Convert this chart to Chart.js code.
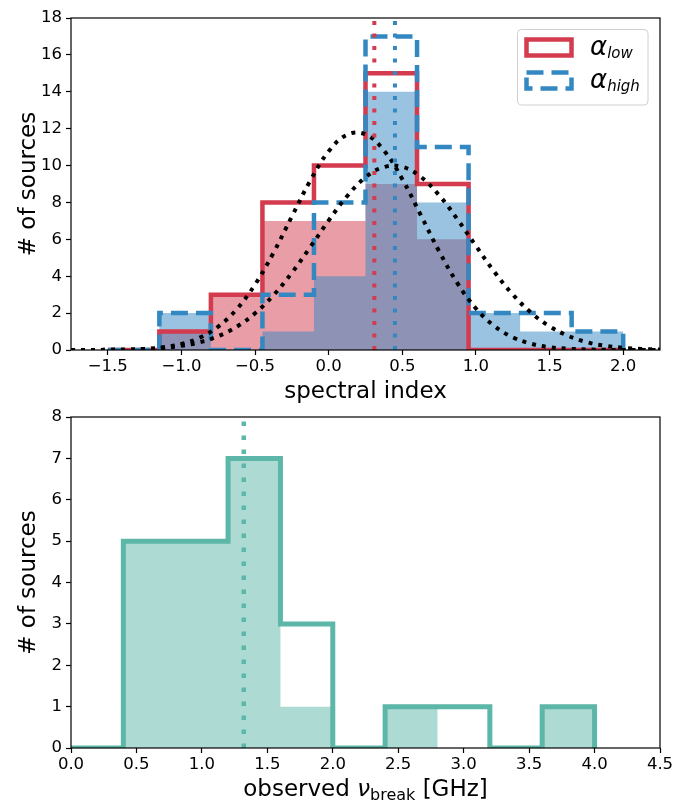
<!DOCTYPE html>
<html>
<head>
<meta charset="utf-8">
<script src="https://cdn.jsdelivr.net/npm/chart.js@4.4.1/dist/chart.umd.min.js"></script>
<style>
  html, body { margin: 0; padding: 0; background: #fff; }
  #wrap { position: relative; width: 676px; height: 801px; overflow: hidden; }
  canvas { display: block; position: absolute; left: 0; }
  #specChart { top: 0; }
  #breakChart { top: 400px; }
</style>
</head>
<body>
<div id="wrap">
<canvas id="specChart" width="676" height="412"></canvas>
<canvas id="breakChart" width="676" height="401"></canvas>
</div>
<script>
// --- top panel: spectral index histograms ---
const specEdges = [-1.5, -1.15, -0.8, -0.45, -0.1, 0.25, 0.6, 0.95, 1.3, 1.65, 2.0];
const lowCounts = [0, 1, 3, 8, 10, 15, 9, 0, 0, 0];      // alpha_low outline
const highCounts = [0, 2, 0, 3, 8, 17, 11, 2, 2, 1];     // alpha_high outline
const lowSubCounts = [0, 1, 3, 7, 7, 9, 6, 0, 0, 0];     // shaded alpha_low
const highSubCounts = [0, 2, 0, 1, 4, 14, 8, 2, 1, 1];   // shaded alpha_high
const lowMedian = 0.31;
const highMedian = 0.45;

// dotted gaussian curves
const fitX = [-1.75, -1.625, -1.5, -1.375, -1.25, -1.125, -1.0, -0.875, -0.75, -0.625, -0.5,
  -0.375, -0.25, -0.125, 0.0, 0.125, 0.25, 0.375, 0.5, 0.625, 0.75, 0.875, 1.0, 1.125,
  1.25, 1.375, 1.5, 1.625, 1.75, 1.875, 2.0, 2.125, 2.25];
const fitLow = [0, 0, 0.01, 0.02, 0.06, 0.15, 0.33, 0.67, 1.27, 2.21, 3.55, 5.27, 7.24, 9.18,
  10.77, 11.67, 11.69, 10.82, 9.26, 7.32, 5.35, 3.61, 2.25, 1.30, 0.69, 0.34, 0.15, 0.07,
  0.03, 0.01, 0, 0, 0];
const fitHigh = [0, 0, 0.01, 0.02, 0.05, 0.11, 0.23, 0.42, 0.75, 1.26, 1.99, 2.97, 4.19, 5.58,
  7.02, 8.34, 9.36, 9.92, 9.93, 9.39, 8.39, 7.08, 5.64, 4.24, 3.01, 2.02, 1.28, 0.77, 0.43,
  0.23, 0.12, 0.06, 0.03];

const specTicks = [-1.5, -1.0, -0.5, 0.0, 0.5, 1.0, 1.5, 2.0];
const specMax = 18;

// --- bottom panel: break frequency ---
const breakEdges = [0, 0.4, 0.8, 1.2, 1.6, 2.0, 2.4, 2.8, 3.2, 3.6, 4.0];
const breakCounts = [0, 5, 5, 7, 3, 0, 1, 1, 0, 1];
const breakSubCounts = [0, 5, 5, 7, 1, 0, 1, 0, 0, 1];
const breakMedian = 1.32;
const breakTicks = [0, 0.5, 1.0, 1.5, 2.0, 2.5, 3.0, 3.5, 4.0, 4.5];
const breakMax = 8;

const red = 'rgb(212, 59, 79)';
const redFill = 'rgba(212, 59, 79, 0.5)';
const blue = 'rgb(52, 136, 193)';
const blueFill = 'rgba(52, 136, 193, 0.5)';
const teal = 'rgb(92, 183, 168)';
const tealFill = 'rgba(92, 183, 168, 0.5)';
const FONT = '"DejaVu Sans", sans-serif';

// histogram outline as corner points (like matplotlib step hist)
function histPoints(edges, counts) {
  const pts = [{x: edges[0], y: 0}];
  counts.forEach((c, i) => {
    pts.push({x: edges[i], y: c});
    pts.push({x: edges[i + 1], y: c});
  });
  pts.push({x: edges[edges.length - 1], y: 0});
  return pts;
}
function vline(x, top) {
  return [{x: x, y: 0}, {x: x, y: top}];
}

function tickFmt(v) {
  return (v < 0 ? '\u2212' : '') + Math.abs(v).toFixed(1);
}

function axes(xMin, xMax, xTicks, yMax, yStep, xHeight) {
  const tickFont = {family: FONT, size: 16.5};
  const grid = {drawOnChartArea: false, drawTicks: true, tickLength: 5, tickWidth: 1.2, tickColor: '#000'};
  return {
    x: {
      type: 'linear', min: xMin, max: xMax,
      afterBuildTicks: s => { s.ticks = xTicks.map(v => ({value: v})); },
      afterFit: s => { s.height = xHeight; },
      ticks: {font: tickFont, color: '#000', padding: 2, maxRotation: 0, autoSkip: false, callback: v => tickFmt(v)},
      grid: grid, border: {display: false}
    },
    y: {
      min: 0, max: yMax,
      afterFit: s => { s.width = 71; },
      ticks: {font: tickFont, color: '#000', padding: 4, stepSize: yStep},
      grid: grid, border: {display: false}
    }
  };
}

// text made of runs with different fonts (for subscripts)
function drawRuns(ctx, runs, x, y, align) {
  let total = 0;
  runs.forEach(r => { ctx.font = r.font; total += ctx.measureText(r.text).width; });
  let cx = align === 'center' ? x - total / 2 : x;
  ctx.textAlign = 'left';
  ctx.textBaseline = 'alphabetic';
  runs.forEach(r => {
    ctx.font = r.font;
    ctx.fillText(r.text, cx, y + (r.dy || 0));
    cx += ctx.measureText(r.text).width;
  });
}

function decor(xTitleRuns, titleBaseline, extra) {
  return {
    id: 'decor',
    afterDraw(chart) {
      const {ctx, chartArea: a} = chart;
      ctx.save();
      ctx.strokeStyle = '#000';
      ctx.lineWidth = 1.2;
      ctx.strokeRect(a.left, a.top, a.right - a.left, a.bottom - a.top);
      ctx.fillStyle = '#000';
      drawRuns(ctx, xTitleRuns, (a.left + a.right) / 2, titleBaseline, 'center');
      ctx.translate(35, (a.top + a.bottom) / 2);
      ctx.rotate(-Math.PI / 2);
      ctx.font = '23px ' + FONT;
      ctx.textAlign = 'center';
      ctx.textBaseline = 'alphabetic';
      ctx.fillText('# of sources', 0, 0);
      ctx.restore();
      if (extra) extra(ctx);
    }
  };
}

function drawLegend(ctx) {
  ctx.save();
  ctx.beginPath();
  ctx.roundRect(517.5, 29.5, 130.5, 75.5, 4);
  ctx.fillStyle = 'rgba(255,255,255,0.8)';
  ctx.fill();
  ctx.strokeStyle = '#d0d0d0';
  ctx.lineWidth = 1;
  ctx.stroke();

  ctx.lineWidth = 4.5;
  ctx.strokeStyle = red;
  ctx.strokeRect(526.5, 39.5, 45, 16);
  ctx.strokeStyle = blue;
  ctx.setLineDash([17, 8]);
  ctx.strokeRect(526.5, 72.5, 45, 16);
  ctx.setLineDash([]);

  ctx.fillStyle = '#000';
  drawRuns(ctx, [
    {text: '\u03b1', font: 'italic 26px ' + FONT},
    {text: 'low', font: 'italic 15px ' + FONT, dy: 3}
  ], 590, 55, 'left');
  drawRuns(ctx, [
    {text: '\u03b1', font: 'italic 26px ' + FONT},
    {text: 'high', font: 'italic 15px ' + FONT, dy: 3}
  ], 590, 88, 'left');
  ctx.restore();
}

const common = {responsive: false, animation: false, events: [],
  elements: {point: {radius: 0}, line: {tension: 0, fill: false}},
  plugins: {legend: {display: false}, tooltip: {enabled: false}}};

new Chart(document.getElementById('specChart'), {
  type: 'line',
  data: {
    datasets: [
      {data: vline(lowMedian, specMax), borderColor: red, borderWidth: 4, borderDash: [4, 8.5], order: 0, clip: 0},
      {data: vline(highMedian, specMax), borderColor: blue, borderWidth: 4, borderDash: [4, 8.5], order: 0, clip: 0},
      {data: fitX.map((x, i) => ({x: x, y: fitLow[i]})), borderColor: '#000', borderWidth: 4,
        borderDash: [4, 6], tension: 0.4, order: 1, clip: 0},
      {data: fitX.map((x, i) => ({x: x, y: fitHigh[i]})), borderColor: '#000', borderWidth: 4,
        borderDash: [4, 6], tension: 0.4, order: 1, clip: 0},
      {data: histPoints(specEdges, highCounts), borderColor: blue, borderWidth: 4.5, borderDash: [17, 8], order: 2, clip: 0},
      {data: histPoints(specEdges, lowCounts), borderColor: red, borderWidth: 4.5, order: 3, clip: 0},
      {data: histPoints(specEdges, highSubCounts), borderWidth: 0, backgroundColor: blueFill, fill: 'origin', order: 4, clip: 0},
      {data: histPoints(specEdges, lowSubCounts), borderWidth: 0, backgroundColor: redFill, fill: 'origin', order: 5, clip: 0}
    ]
  },
  options: Object.assign({}, common, {
    layout: {padding: {top: 18, right: 16, left: 0, bottom: 12}},
    scales: axes(-1.75, 2.25, specTicks, specMax, 2, 50)
  }),
  plugins: [decor([{text: 'spectral index', font: '23px ' + FONT}], 398, drawLegend)]
});

new Chart(document.getElementById('breakChart'), {
  type: 'line',
  data: {
    datasets: [
      {data: vline(breakMedian, breakMax), borderColor: teal, borderWidth: 4.5, borderDash: [4.5, 9.5], order: 0, clip: 0},
      {data: histPoints(breakEdges, breakCounts), borderColor: teal, borderWidth: 5, order: 1, clip: 0},
      {data: histPoints(breakEdges, breakSubCounts), borderWidth: 0, backgroundColor: tealFill, fill: 'origin', order: 2, clip: 0}
    ]
  },
  options: Object.assign({}, common, {
    layout: {padding: {top: 17, right: 16, left: 0, bottom: 0}},
    scales: axes(0, 4.5, breakTicks, breakMax, 1, 53)
  }),
  plugins: [decor([
    {text: 'observed ', font: '23px ' + FONT},
    {text: '\u03bd', font: 'italic 23px ' + FONT},
    {text: 'break', font: '16px ' + FONT, dy: 4},
    {text: ' [GHz]', font: '23px ' + FONT}
  ], 396)]
});
</script>
</body>
</html>
